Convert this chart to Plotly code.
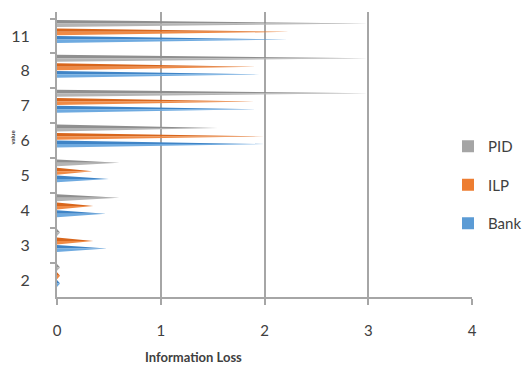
import plotly.graph_objects as go

categories = ["2", "3", "4", "5", "6", "7", "8", "11"]
pid = [0.03, 0.03, 0.60, 0.60, 1.55, 3.00, 3.00, 3.00]
ilp = [0.03, 0.35, 0.35, 0.34, 2.00, 1.90, 1.93, 2.24]
bank = [0.03, 0.48, 0.47, 0.50, 2.00, 1.93, 1.95, 2.22]
series_names = ["PID", "ILP", "Bank"]
x_ticks = [0, 1, 2, 3, 4]

# style
colors = {"PID": ("#8f8f8f", "#b4b4b4"), "ILP": ("#d8661c", "#f08a45"), "Bank": ("#3f84c6", "#6eaae0")}
legend_colors = {"PID": "#a5a5a5", "ILP": "#ed7d31", "Bank": "#5b9bd5"}
offsets = {"PID": 0.36, "ILP": 0.12, "Bank": -0.10}
half = 0.10
FONT = "Lato"
TXT = "#404040"

fig = go.Figure()
pos = list(range(len(categories)))

for name, vals in zip(series_names, [pid, ilp, bank]):
    dark, light = colors[name]
    for part, col in (("up", dark), ("down", light)):
        xs, ys = [], []
        for p, v in zip(pos, vals):
            yc = p + offsets[name]
            edge = yc + half if part == "up" else yc - half
            xs += [0, v, 0, 0, None]
            ys += [edge, yc, yc, edge, None]
        fig.add_trace(go.Scatter(x=xs, y=ys, mode="lines", fill="toself",
                                 fillcolor=col, line=dict(width=0, color=col),
                                 hoverinfo="skip", showlegend=False))

for name in series_names:
    fig.add_trace(go.Scatter(x=[None], y=[None], mode="markers", name=name,
                             legendgroup=name,
                             marker=dict(symbol="square", size=12, color=legend_colors[name])))

fig.update_layout(
    width=527, height=369,
    margin=dict(l=57, r=55, t=12, b=72, autoexpand=False),
    paper_bgcolor="white", plot_bgcolor="white",
    font=dict(family=FONT, color=TXT, size=14),
    showlegend=True,
    legend=dict(xref="container", yref="container",
                x=448 / 527, y=1 - 130 / 369, xanchor="left", yanchor="top",
                bgcolor="rgba(0,0,0,0)", tracegroupgap=16,
                font=dict(size=15, color=TXT), itemwidth=30,
                traceorder="grouped"),
    xaxis=dict(range=[0, 4], tickvals=x_ticks, ticktext=[str(t) for t in x_ticks],
               showgrid=True, gridcolor="#a6a6a6", gridwidth=2, zeroline=False,
               showline=True, linecolor="#a6a6a6", linewidth=2,
               ticks="outside", ticklen=6, tickcolor="#a6a6a6", tickwidth=1.5,
               ticklabelstandoff=13, tickfont=dict(size=15, color=TXT)),
    yaxis=dict(range=[-0.49, 7.69], tickvals=pos, ticktext=categories,
               showgrid=False, zeroline=False, showline=True,
               linecolor="#a6a6a6", linewidth=2, ticks="",
               ticklabelstandoff=22, tickfont=dict(size=16, color=TXT),
               minor=dict(tick0=0.5, dtick=1, ticks="outside", ticklen=5,
                          tickcolor="#a6a6a6", tickwidth=1.5, showgrid=False)),
    annotations=[
        dict(text="<b>Information Loss</b>", xref="paper", yref="paper",
             x=0.328, y=-0.212, showarrow=False, font=dict(size=13, color=TXT),
             xanchor="center", yanchor="middle"),
        dict(text="<b>value</b>", xref="paper", yref="paper",
             x=-0.108, y=0.56, showarrow=False, textangle=-90,
             font=dict(size=6, color=TXT), xanchor="center", yanchor="middle"),
    ],
)

fig.write_html("out.html")
